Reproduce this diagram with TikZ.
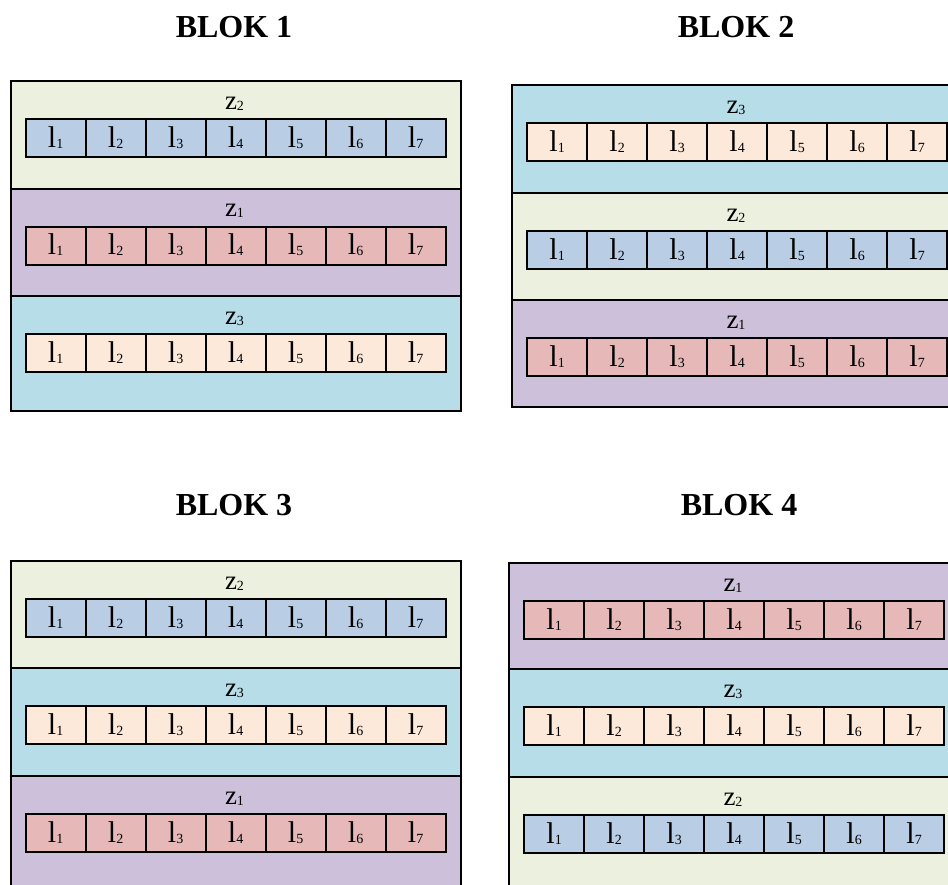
\documentclass[tikz,border=0pt]{standalone}
\usepackage{fontspec}
\setmainfont{Liberation Serif}

\definecolor{zgreen}{HTML}{EBF1DE}
\definecolor{zpurple}{HTML}{CCC0DA}
\definecolor{zteal}{HTML}{B7DEE8}
\definecolor{cblue}{HTML}{B9CDE5}
\definecolor{cred}{HTML}{E6B9B8}
\definecolor{cpeach}{HTML}{FDE9D9}

% small index digits set on the baseline
\newcommand{\lsub}[1]{{\fontsize{14}{14}\selectfont\raisebox{-1pt}{#1}}}

\tikzset{
  band/.style={draw=black, line width=2.2pt, anchor=north west,
    minimum width=450pt, inner sep=0pt},
  cellbox/.style={draw=black, line width=2.2pt, anchor=north west,
    minimum width=60pt, minimum height=38pt, inner sep=0pt,
    text height=21pt, text depth=3pt, font=\fontsize{30}{30}\selectfont},
  zlabel/.style={anchor=base, inner sep=0pt, font=\fontsize{27}{27}\selectfont},
  title/.style={anchor=base, inner sep=0pt, font=\fontsize{32}{32}\selectfont\bfseries},
}

% one zone: #1 name, #2 x, #3 y, #4 height, #5 band colour, #6 cell colour, #7 zone index
\newcommand{\zoneband}[7]{%
  \node[band, fill=#5, minimum height=#4pt] (#1) at (#2,#3) {};
  \node[zlabel] (#1-lab) at ({#2+225},{#3+29}) {z\lsub{#7}};
  \foreach \i in {1,...,7}{
    \node[cellbox, fill=#6] (#1-c\i) at ({#2+15+(\i-1)*60},{#3+38}) {l\lsub{\i}};
  }%
}

\begin{document}
\begin{tikzpicture}[x=1pt, y=-1pt]
  \clip (0,0) rectangle (948,884);

  % titles
  \node[title] (t1) at (234,37) {BLOK 1};
  \node[title] (t2) at (736,37) {BLOK 2};
  \node[title] (t3) at (234,515) {BLOK 3};
  \node[title] (t4) at (739,515) {BLOK 4};

  % block 1
  \zoneband{b1a}{9.5}{80}{107.5}{zgreen}{cblue}{2}
  \zoneband{b1b}{9.5}{187.5}{107.5}{zpurple}{cred}{1}
  \zoneband{b1c}{9.5}{295}{114.5}{zteal}{cpeach}{3}

  % block 2
  \zoneband{b2a}{511}{84}{108}{zteal}{cpeach}{3}
  \zoneband{b2b}{511}{192}{107}{zgreen}{cblue}{2}
  \zoneband{b2c}{511}{299}{107}{zpurple}{cred}{1}

  % block 3
  \zoneband{b3a}{9.5}{560}{107}{zgreen}{cblue}{2}
  \zoneband{b3b}{9.5}{667}{108}{zteal}{cpeach}{3}
  \zoneband{b3c}{9.5}{775}{115}{zpurple}{cred}{1}

  % block 4
  \zoneband{b4a}{508}{562}{106}{zpurple}{cred}{1}
  \zoneband{b4b}{508}{668}{108}{zteal}{cpeach}{3}
  \zoneband{b4c}{508}{776}{115}{zgreen}{cblue}{2}
\end{tikzpicture}
\end{document}
